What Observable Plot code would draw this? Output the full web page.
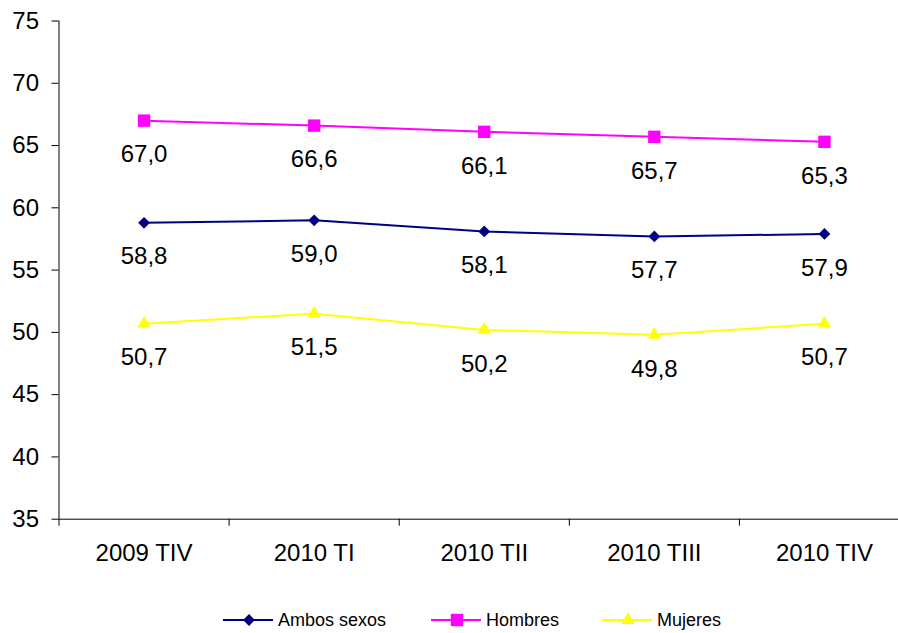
<!DOCTYPE html>
<html>
<head>
<meta charset="utf-8">
<script src="https://cdn.jsdelivr.net/npm/d3@7"></script>
<script src="https://cdn.jsdelivr.net/npm/@observablehq/plot@0.6"></script>
<style>
  html, body { margin: 0; padding: 0; background: white; }
  #chart svg { display: block; }
  #legend { position: relative; height: 33px; font-family: "Liberation Sans", Arial, sans-serif; font-size: 18px; color: black; }
  .item { position: absolute; top: 7px; display: flex; align-items: center; height: 26px; }
  .item svg { display: block; margin-right: 5px; }
</style>
</head>
<body>
<div id="chart"></div>
<div id="legend"></div>
<script>
const categories = ["2009 TIV", "2010 TI", "2010 TII", "2010 TIII", "2010 TIV"];
const ambos = [58.8, 59.0, 58.1, 57.7, 57.9];
const hombres = [67.0, 66.6, 66.1, 65.7, 65.3];
const mujeres = [50.7, 51.5, 50.2, 49.8, 50.7];
const yTicks = [35, 40, 45, 50, 55, 60, 65, 70, 75];

const series = [
  {name: "Ambos sexos", values: ambos, color: "#000080", symbol: "diamond2", r: 5.3},
  {name: "Hombres", values: hombres, color: "#FF00FF", symbol: "square", r: 7},
  {name: "Mujeres", values: mujeres, color: "#FFFF00", symbol: "triangle", r: 5}
];

const fmt = v => v.toFixed(1).replace(".", ",");
const bandEdges = d3.range(categories.length + 1).map(i => i - 0.5);
const idx = d3.range(categories.length);

const marks = [
  Plot.ruleY([35], {stroke: "black", strokeWidth: 1}),
  Plot.ruleX([-0.5], {y1: 35, y2: 75, stroke: "black", strokeWidth: 1}),
  Plot.axisY({ticks: yTicks, tickSize: 7, tickPadding: 13, fontSize: 24, label: null, tickFormat: d => String(d)}),
  Plot.axisX({ticks: bandEdges, tickSize: 7, label: null, tickFormat: () => ""}),
  Plot.axisX({ticks: idx, tickSize: 0, tickPadding: 25, fontSize: 24, label: null, tickFormat: i => categories[i]})
];

for (const s of series) {
  const data = s.values.map((v, i) => ({i, v}));
  marks.push(Plot.line(data, {x: "i", y: "v", stroke: s.color, strokeWidth: 2}));
  marks.push(Plot.dot(data, {x: "i", y: "v", symbol: s.symbol, r: s.r, fill: s.color, stroke: "none"}));
  marks.push(Plot.text(data, {x: "i", y: "v", text: d => fmt(d.v), dy: 34, fontSize: 24, fill: "black"}));
}

const chart = Plot.plot({
  width: 898,
  height: 600,
  marginTop: 20.5,
  marginBottom: 81.3,
  marginLeft: 58.5,
  marginRight: 0,
  x: {domain: [-0.5, 4.5], range: [58.5, 909], label: null},
  y: {domain: [35, 75], range: [518.7, 20.5], label: null},
  style: {fontFamily: "'Liberation Sans', Arial, sans-serif", fontSize: "24px", background: "white", color: "black", overflow: "hidden"},
  marks
});
document.getElementById("chart").appendChild(chart);

// Legend
const legend = d3.select("#legend");
const starts = [223, 431, 602];
const symbolTypes = {diamond2: d3.symbolDiamond2, square: d3.symbolSquare, triangle: d3.symbolTriangle};
series.forEach((s, k) => {
  const item = legend.append("div").attr("class", "item").style("left", starts[k] + "px");
  const sv = item.append("svg").attr("width", 50).attr("height", 26);
  sv.append("line").attr("x1", 0).attr("x2", 50).attr("y1", 13).attr("y2", 13)
    .attr("stroke", s.color).attr("stroke-width", 2);
  sv.append("path").attr("transform", "translate(26,13)")
    .attr("d", d3.symbol(symbolTypes[s.symbol], Math.PI * s.r * s.r)())
    .attr("fill", s.color);
  item.append("span").text(s.name);
});
</script>
</body>
</html>
